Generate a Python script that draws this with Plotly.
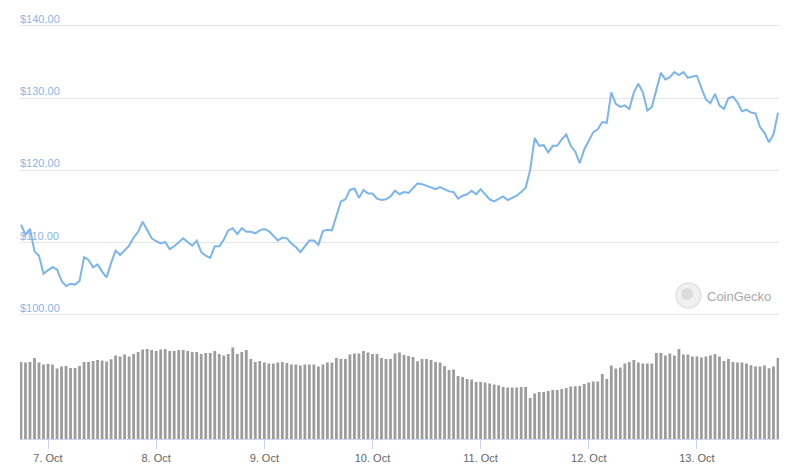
import pandas as pd
import plotly.graph_objects as go

# Hourly price (USD)
price = [
    112.5, 111.1, 111.9, 108.8, 108.2, 105.7, 106.2, 106.6, 106.3, 104.7,
    104.0, 104.3, 104.2, 104.7, 108.0, 107.6, 106.6, 107.0, 106.0, 105.2,
    107.2, 108.9, 108.3, 108.9, 109.6, 110.7, 111.5, 112.9, 111.7, 110.6,
    110.2, 109.9, 110.1, 109.1, 109.5, 110.1, 110.6, 110.1, 109.6, 110.3,
    108.7, 108.2, 107.9, 109.5, 109.5, 110.4, 111.7, 112.0, 111.2, 112.0,
    111.5, 111.5, 111.3, 111.7, 111.9, 111.6, 111.0, 110.3, 110.7, 110.6,
    109.9, 109.4, 108.7, 109.5, 110.3, 110.3, 109.7, 111.6, 111.8, 111.7,
    113.7, 115.7, 116.0, 117.3, 117.5, 116.2, 117.3, 116.8, 116.8, 116.1,
    115.9, 116.0, 116.4, 117.2, 116.7, 117.0, 116.9, 117.6, 118.2, 118.1,
    117.9, 117.6, 117.4, 117.7, 117.4, 117.1, 117.0, 116.1, 116.5, 116.7,
    117.2, 116.7, 117.4, 116.7, 116.0, 115.7, 116.1, 116.4, 115.9, 116.2,
    116.5, 117.0, 117.6, 120.1, 124.5, 123.4, 123.5, 122.5, 123.4, 123.4,
    124.3, 125.0, 123.4, 122.6, 121.0, 122.9, 124.0, 125.3, 125.7, 126.7,
    126.6, 130.8, 129.2, 128.8, 129.0, 128.5, 130.8, 132.0, 130.8, 128.3,
    128.8, 131.2, 133.5, 132.6, 132.9, 133.6, 133.2, 133.6, 132.8, 133.0,
    133.1, 131.4, 129.8, 129.3, 130.6, 129.0, 128.5, 130.0, 130.2, 129.4,
    128.2, 128.4, 128.0, 127.9, 126.0, 125.2, 123.9, 125.0, 128.0,
]

# Hourly volume (relative units, no axis shown)
volume = [
    231, 229, 231, 243, 229, 223, 225, 223, 211, 217,
    219, 213, 213, 219, 231, 231, 234, 237, 235, 232,
    239, 250, 247, 253, 247, 255, 261, 268, 270, 267,
    264, 268, 270, 264, 264, 267, 267, 264, 261, 261,
    255, 258, 258, 264, 255, 250, 255, 274, 255, 261,
    267, 240, 231, 234, 229, 226, 226, 229, 231, 228,
    223, 223, 220, 223, 223, 223, 217, 223, 229, 229,
    243, 240, 240, 253, 256, 256, 264, 259, 255, 255,
    243, 240, 240, 256, 259, 252, 249, 246, 233, 240,
    240, 237, 231, 229, 219, 207, 208, 189, 186, 180,
    178, 171, 171, 169, 166, 163, 161, 156, 154, 154,
    154, 156, 156, 123, 136, 141, 141, 144, 147, 147,
    150, 153, 157, 158, 159, 165, 169, 172, 172, 195,
    180, 220, 211, 214, 226, 231, 237, 229, 226, 226,
    226, 258, 258, 250, 256, 250, 270, 253, 253, 247,
    247, 244, 247, 250, 255, 247, 234, 240, 231, 229,
    229, 226, 221, 217, 217, 220, 212, 217, 243,
]

price_ticks = [100, 110, 120, 130, 140]

day_ticks = ["2020-10-07", "2020-10-08", "2020-10-09", "2020-10-10",
             "2020-10-11", "2020-10-12", "2020-10-13"]
day_labels = ["7. Oct", "8. Oct", "9. Oct", "10. Oct", "11. Oct", "12. Oct", "13. Oct"]

times = pd.date_range("2020-10-06 18:00", periods=len(price), freq="h")

fig = go.Figure()

fig.add_trace(go.Scatter(
    x=times, y=price, mode="lines",
    line=dict(color="#7cb5ec", width=2),
    xaxis="x", yaxis="y", hoverinfo="skip",
))

fig.add_trace(go.Bar(
    x=times, y=volume,
    marker=dict(color="#9c9c9c", line=dict(width=0)),
    xaxis="x", yaxis="y2", hoverinfo="skip",
))

pad = pd.Timedelta(minutes=13)

# page body has an 8px margin, so the figure is 8px smaller each way
fig.update_layout(
    width=803, height=463,
    margin=dict(l=12, r=32, t=2, b=32),
    paper_bgcolor="white", plot_bgcolor="white",
    showlegend=False,
    bargap=0.38,
    font=dict(family="Liberation Sans, Arial, sans-serif", size=11, color="#666666"),
    xaxis=dict(
        type="date",
        range=[times[0] - pad, times[-1] + pad],
        anchor="y2",
        showgrid=False,
        showline=True, linecolor="#ccd6eb", linewidth=1,
        ticks="outside", ticklen=9, tickcolor="#ccd6eb", tickwidth=1,
        tickmode="array", tickvals=day_ticks, ticktext=day_labels,
        tickfont=dict(size=11, color="#666666"),
        zeroline=False,
    ),
    yaxis=dict(
        domain=[0.2858, 1],
        range=[99.8, 142.2],
        tickmode="array", tickvals=price_ticks,
        showticklabels=False,
        showgrid=True, gridcolor="#e6e6e6", gridwidth=1,
        zeroline=False, showline=False, ticks="",
    ),
    yaxis2=dict(
        domain=[0, 0.2606],
        range=[0, 335],
        showgrid=False, showticklabels=False,
        zeroline=False, showline=False, ticks="",
    ),
)

# price labels sit just above their gridlines, inside the plot
for v in price_ticks:
    fig.add_annotation(
        text=f"${v:.2f}", xref="paper", yref="y",
        x=0, y=v, xanchor="left", yanchor="bottom",
        showarrow=False, xshift=-2, yshift=-1,
        font=dict(family="Liberation Sans, Arial, sans-serif", size=11, color="#8ab6e8"),
    )

# CoinGecko watermark
fig.add_shape(
    type="circle", xref="paper", yref="paper",
    x0=(676 - 20) / 759, x1=(701 - 20) / 759,
    y0=(439 - 308) / 429, y1=(439 - 283) / 429,
    line=dict(color="#e2e2e2", width=1.5), fillcolor="#f0f0f0", layer="below",
)
fig.add_shape(
    type="circle", xref="paper", yref="paper",
    x0=(681 - 20) / 759, x1=(693 - 20) / 759,
    y0=(439 - 300) / 429, y1=(439 - 288) / 429,
    line=dict(width=0), fillcolor="#dcdcdc", layer="below",
)
fig.add_annotation(
    text="CoinGecko", xref="paper", yref="paper",
    x=(705 - 20) / 759, y=(439 - 296) / 429,
    xanchor="left", yanchor="middle", showarrow=False,
    font=dict(family="Liberation Sans, Arial, sans-serif", size=13, color="#a9a9a9"),
)

fig.write_html("out.html")
